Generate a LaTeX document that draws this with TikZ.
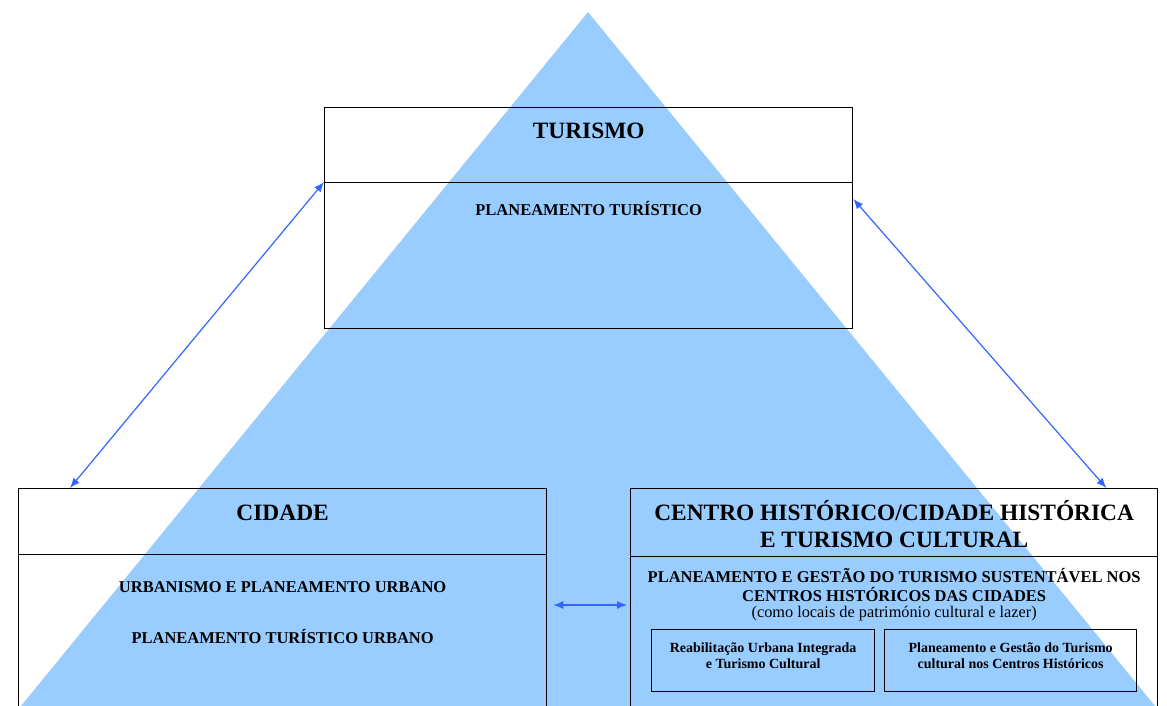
\documentclass[tikz,border=0pt]{standalone}
\usepackage{fontspec}
\setmainfont{Liberation Serif}
\usetikzlibrary{arrows.meta,positioning,calc}
\definecolor{pyramid}{RGB}{153,204,255}
\definecolor{linkblue}{RGB}{51,102,255}
\tikzset{
    %Define standard arrow tip
    >={Latex[length=10pt,width=8pt]},
    %Define style for boxes
    panel/.style={
           rectangle,
           draw=black, line width=1.3pt,
           inner sep=0pt,
           anchor=north west},
    heading/.style={
           font=\bfseries\fontsize{23.4}{27}\selectfont,
           align=center, inner sep=0pt, anchor=base},
    topic/.style={
           font=\bfseries\fontsize{16.5}{19}\selectfont,
           align=center, inner sep=0pt, anchor=base},
    note/.style={
           font=\fontsize{16.3}{18}\selectfont,
           inner sep=0pt, anchor=base},
    subtopic/.style={
           font=\bfseries\fontsize{14}{15.5}\selectfont,
           align=center, inner sep=0pt, anchor=base},
    % Define arrow style
    link/.style={
           <->,
           draw=linkblue, line width=1.2pt}
}
\begin{document}
\begin{tikzpicture}[x=1pt,y=-1pt]
 \useasboundingbox (0,0) rectangle (1167,706);
 \clip (0,0) rectangle (1167,706);

 %pyramid
 \fill[pyramid] (588,12) -- (21,706) -- (1155,706) -- cycle;

 %boxes
 \node[panel, minimum width=528pt, minimum height=75pt] (turHead) at (324,107) {};
 \node[panel, minimum width=528pt, minimum height=146pt] (turBody) at (324,182) {};
 \node[panel, minimum width=528pt, minimum height=66pt] (cidHead) at (18,488) {};
 \node[panel, minimum width=528pt, minimum height=180pt] (cidBody) at (18,554) {};
 \node[panel, minimum width=527pt, minimum height=68pt] (cenHead) at (630,488) {};
 \node[panel, minimum width=527pt, minimum height=180pt] (cenBody) at (630,556) {};
 \node[panel, minimum width=223pt, minimum height=62pt] (reab) at (651,629) {};
 \node[panel, minimum width=252pt, minimum height=62pt] (gest) at (884,629) {};

 %texts (base = last line)
 \node[heading] (turTitle) at ($(turHead.north)+(0,32)$) {TURISMO};
 \node[topic] (turPlan) at ($(turBody.north)+(0,33)$) {PLANEAMENTO TURÍSTICO};
 \node[heading] (cidTitle) at ($(cidHead.north)+(0,32)$) {CIDADE};
 \node[topic] (cidUrb) at ($(cidBody.north)+(0,38)$) {URBANISMO E PLANEAMENTO URBANO};
 \node[topic] (cidTur) at ($(cidBody.north)+(0,89)$) {PLANEAMENTO TURÍSTICO URBANO};
 \node[heading] (cenTitle) at ($(cenHead.north)+(0,59)$) {CENTRO HISTÓRICO/CIDADE HISTÓRICA\\E TURISMO CULTURAL};
 \node[topic] (cenPlan) at ($(cenBody.north)+(0,45)$) {PLANEAMENTO E GESTÃO DO TURISMO SUSTENTÁVEL NOS\\CENTROS HISTÓRICOS DAS CIDADES};
 \node[note] (cenNote) at ($(cenBody.north)+(0,61)$) {(como locais de património cultural e lazer)};
 \node[subtopic] (reabText) at ($(reab.north)+(0,39)$) {Reabilitação Urbana Integrada\\e Turismo Cultural};
 \node[subtopic] (gestText) at ($(gest.north)+(0,39)$) {Planeamento e Gestão do Turismo\\cultural nos Centros Históricos};

 %links
 \coordinate (cidTop) at ($(cidHead.north west)+(52,0)$);
 \coordinate (turRight) at ($(turBody.north east)+(0,17)$);
 \coordinate (cenTop) at ($(cenHead.north east)+(-52,0)$);
 \coordinate (cidSide) at ($(cidBody.north east)+(6,51)$);
 \coordinate (cenSide) at ($(cenBody.north west)+(-3,49)$);
 \draw[link] (cidTop) -- (turBody.north west);
 \draw[link] (turRight) -- (cenTop);
 \draw[link] (cidSide) -- (cenSide);

\end{tikzpicture}
\end{document}
